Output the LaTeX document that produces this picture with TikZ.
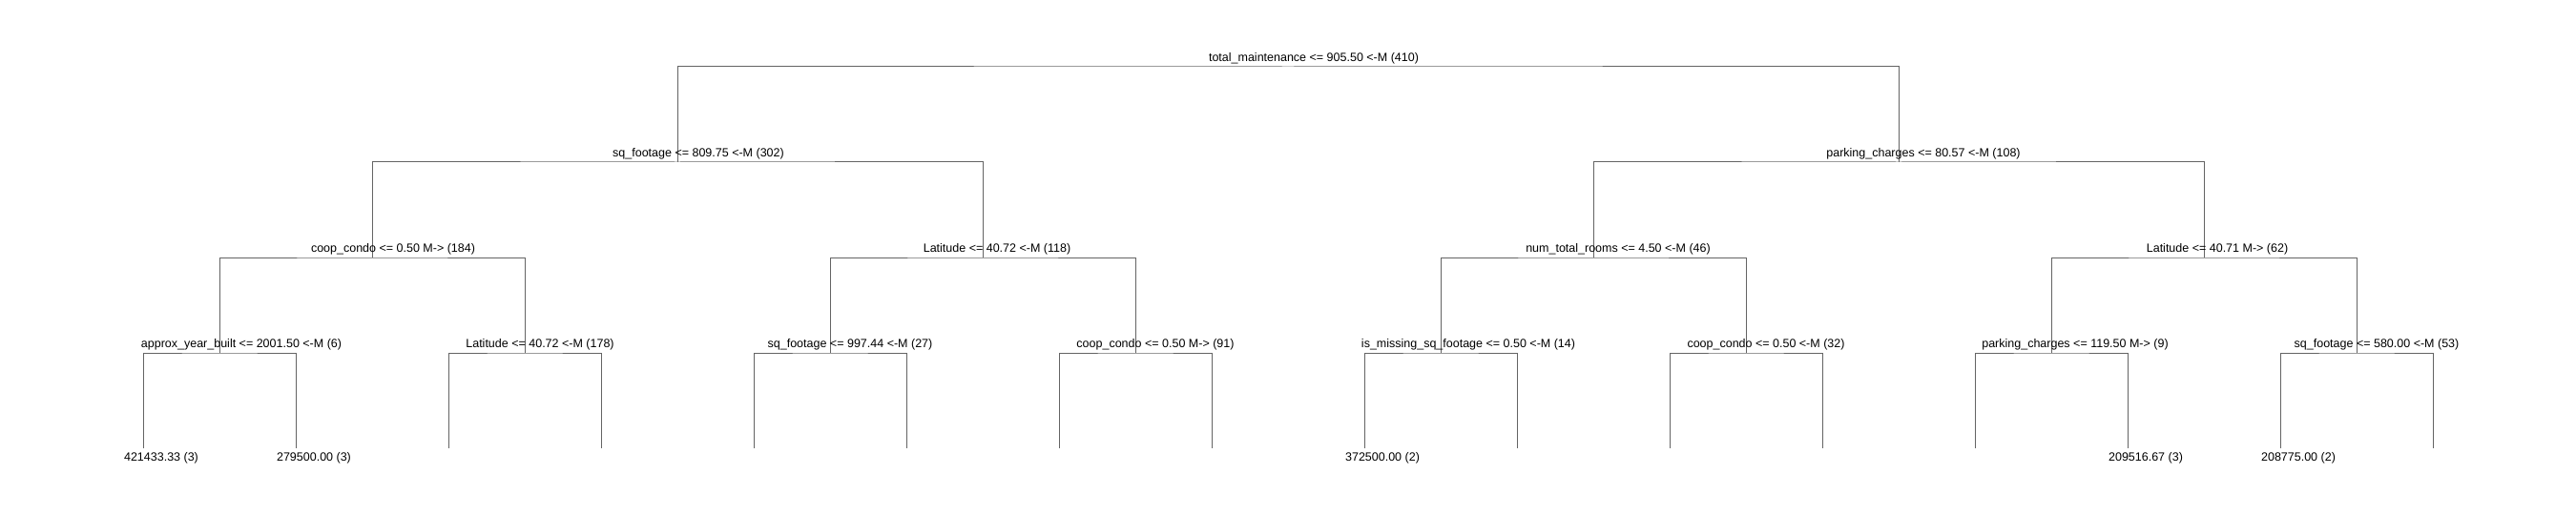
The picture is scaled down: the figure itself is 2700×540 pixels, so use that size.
\documentclass[tikz,border=0pt]{standalone}
\usepackage{fontspec}
\setmainfont{Liberation Sans}
\definecolor{linegray}{RGB}{100,100,100}
\begin{document}
\begin{tikzpicture}[x=1pt,y=-1pt,
  edge/.style={draw=linegray,line width=1pt},
  splitlab/.style={anchor=base,inner sep=0pt,font=\fontsize{12.5}{15}\selectfont,text=black},
  leaflab/.style={anchor=base,inner sep=0pt,font=\fontsize{12.5}{15}\selectfont,text=black}]
\useasboundingbox[fill=white] (0,0) rectangle (2700,540);
% split points (on their bars)
\coordinate (n0) at (1350,70);
\coordinate (n1) at (710,170);
\coordinate (n2) at (1990,170);
\coordinate (n3) at (390,270);
\coordinate (n4) at (1030,270);
\coordinate (n5) at (1670,270);
\coordinate (n6) at (2310,270);
\coordinate (n7) at (230,370);
\coordinate (n8) at (550,370);
\coordinate (n9) at (870,370);
\coordinate (n10) at (1190,370);
\coordinate (n11) at (1510,370);
\coordinate (n12) at (1830,370);
\coordinate (n13) at (2150,370);
\coordinate (n14) at (2470,370);
% leaves
\foreach \i in {0,...,15} {\coordinate (l\i) at ({150+160*\i},470);}
% connectors
\draw[edge] (n1) |- (n0) -| (n2);
\draw[edge] (n3) |- (n1) -| (n4);
\draw[edge] (n5) |- (n2) -| (n6);
\draw[edge] (n7) |- (n3) -| (n8);
\draw[edge] (n9) |- (n4) -| (n10);
\draw[edge] (n11) |- (n5) -| (n12);
\draw[edge] (n13) |- (n6) -| (n14);
\draw[edge] (l0) |- (n7) -| (l1);
\draw[edge] (l2) |- (n8) -| (l3);
\draw[edge] (l4) |- (n9) -| (l5);
\draw[edge] (l6) |- (n10) -| (l7);
\draw[edge] (l8) |- (n11) -| (l9);
\draw[edge] (l10) |- (n12) -| (l11);
\draw[edge] (l12) |- (n13) -| (l13);
\draw[edge] (l14) |- (n14) -| (l15);
% split labels
\node[splitlab] (t0) at (1377,64.5) {total\_maintenance <= 905.50 <-M (410)};
\node[splitlab] (t1) at (732,164.5) {sq\_footage <= 809.75 <-M (302)};
\node[splitlab] (t2) at (2016,164.5) {parking\_charges <= 80.57 <-M (108)};
\node[splitlab] (t3) at (412,264.5) {coop\_condo <= 0.50 M-> (184)};
\node[splitlab] (t4) at (1045,264.5) {Latitude <= 40.72 <-M (118)};
\node[splitlab] (t5) at (1696,264.5) {num\_total\_rooms <= 4.50 <-M (46)};
\node[splitlab] (t6) at (2324,264.5) {Latitude <= 40.71 M-> (62)};
\node[splitlab] (t7) at (253,364.5) {approx\_year\_built <= 2001.50 <-M (6)};
\node[splitlab] (t8) at (566,364.5) {Latitude <= 40.72 <-M (178)};
\node[splitlab] (t9) at (891,364.5) {sq\_footage <= 997.44 <-M (27)};
\node[splitlab] (t10) at (1211,364.5) {coop\_condo <= 0.50 M-> (91)};
\node[splitlab] (t11) at (1539,364.5) {is\_missing\_sq\_footage <= 0.50 <-M (14)};
\node[splitlab] (t12) at (1851,364.5) {coop\_condo <= 0.50 <-M (32)};
\node[splitlab] (t13) at (2175,364.5) {parking\_charges <= 119.50 M-> (9)};
\node[splitlab] (t14) at (2491,364.5) {sq\_footage <= 580.00 <-M (53)};
% leaf labels
\node[leaflab] (v0) at (169,483) {421433.33 (3)};
\node[leaflab] (v1) at (329,483) {279500.00 (3)};
\node[leaflab] (v8) at (1449,483) {372500.00 (2)};
\node[leaflab] (v13) at (2249,483) {209516.67 (3)};
\node[leaflab] (v14) at (2409,483) {208775.00 (2)};
\end{tikzpicture}
\end{document}
